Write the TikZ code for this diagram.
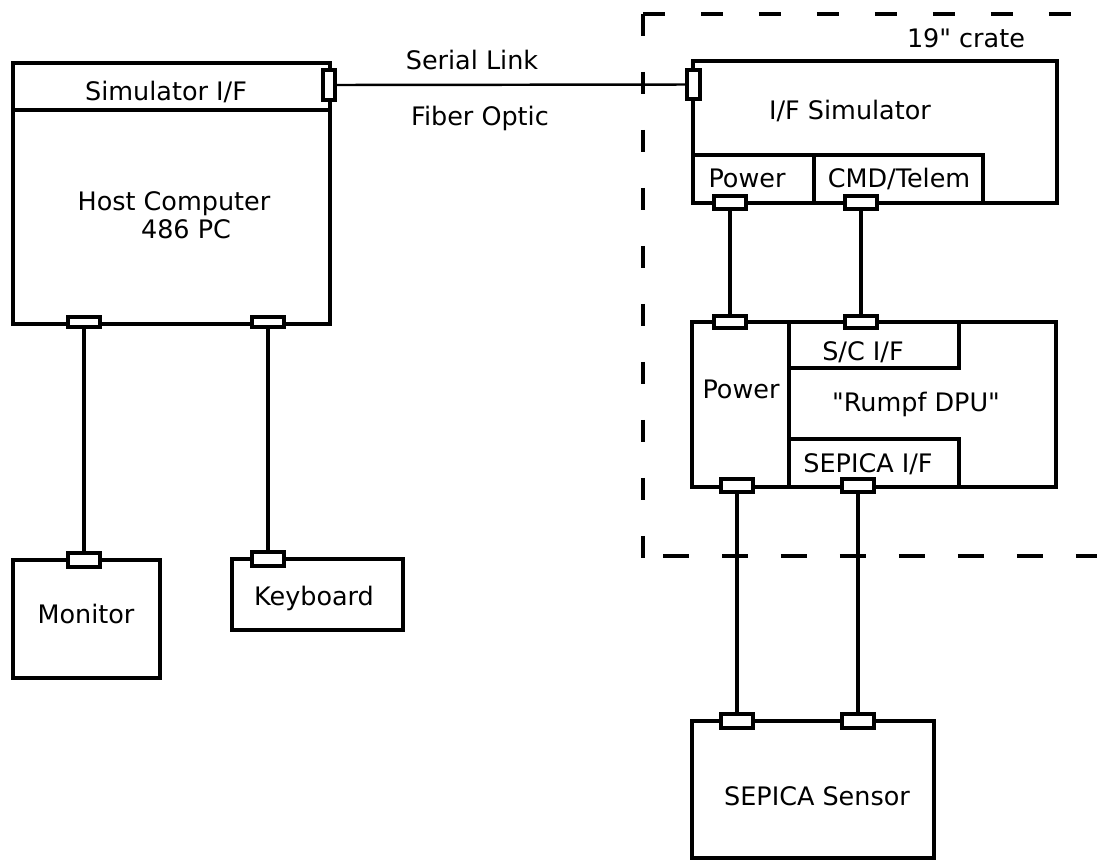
\documentclass[tikz,border=0pt]{standalone}
\usepackage{fontspec}
\setmainfont{DejaVu Sans}[Ligatures=TeXOff]
\usetikzlibrary{fit}
\begin{document}
\begin{tikzpicture}[x=0.02cm,y=-0.02cm,
  box/.style={draw, line width=2pt, inner sep=0pt, rectangle},
  port/.style={draw, fill=white, line width=1.8pt, inner sep=0pt, rectangle},
  lbl/.style={font=\fontsize{14.5}{17}\selectfont, anchor=base, inner sep=0pt},
  link/.style={line width=2pt},
  serial/.style={line width=1.4pt},
  crate/.style={line width=2pt, dash pattern=on 0.44cm off 0.72cm},
  cratebottom/.style={line width=2pt, dash pattern=on 0.52cm off 0.66cm},
]
\useasboundingbox (0,0) rectangle (1097,863);

% 19" crate outline (dashed)
\draw[crate] (643,14) -- (643,558);
\draw[crate] (643,14) -- (1097,14);
\draw[cratebottom] (663,556) -- (1097,556);

% host computer
\node[box, fit={(13,63) (330,324)}] (host) {};
\node[box, fit={(13,63) (330,110)}] (simif) {};
\node[lbl] (simiflbl) at (166,100) {Simulator I/F};
\node[lbl] (hostlbl) at (174,210) {Host Computer};
\node[lbl] (pclbl) at (186,238) {486 PC};

% monitor and keyboard
\node[box, fit={(13,560) (160,678)}] (mon) {};
\node[lbl] (monlbl) at (86,623) {Monitor};
\node[box, fit={(232,559) (403,630)}] (kbd) {};
\node[lbl] (kbdlbl) at (314,605) {Keyboard};

% I/F simulator
\node[box, fit={(693,61) (1057,203)}] (ifsim) {};
\node[box, fit={(693,155) (814,203)}] (ifpow) {};
\node[box, fit={(814,155) (983,203)}] (ifcmd) {};
\node[lbl] (ifsimlbl) at (850,119) {I/F Simulator};
\node[lbl] (ifpowlbl) at (747,187) {Power};
\node[lbl] (ifcmdlbl) at (899,187) {CMD/Telem};
\node[lbl] (cratelbl) at (966,47) {19" crate};

% DPU
\node[box, fit={(692,322) (1056,487)}] (dpu) {};
\node[box, fit={(692,322) (789,487)}] (dpupow) {};
\node[box, fit={(789,322) (959,368)}] (scif) {};
\node[box, fit={(789,439) (959,487)}] (sepif) {};
\node[lbl] (dpupowlbl) at (741,398) {Power};
\node[lbl] (sciflbl) at (863,360) {S/C I/F};
\node[lbl] (dpulbl) at (916,411) {"Rumpf DPU"};
\node[lbl] (sepiflbl) at (868,472) {SEPICA I/F};

% SEPICA sensor
\node[box, fit={(692,721) (934,858)}] (sensor) {};
\node[lbl] (sensorlbl) at (817,805) {SEPICA Sensor};

% serial link labels
\node[lbl] (seriallbl) at (472,69) {Serial Link};
\node[lbl] (fiberlbl) at (480,125) {Fiber Optic};

% connectors
\node[port, fit={(323,70) (335,100)}] (hostS) {};
\node[port, fit={(687,70) (700,99)}] (ifS) {};
\node[port, fit={(68,317) (100,327)}] (hostM) {};
\node[port, fit={(252,317) (284,327)}] (hostK) {};
\node[port, fit={(68,553) (100,567)}] (monP) {};
\node[port, fit={(252,552) (284,566)}] (kbdP) {};
\node[port, fit={(714,196) (746,209)}] (ifP) {};
\node[port, fit={(845,196) (877,209)}] (ifC) {};
\node[port, fit={(714,316) (746,328)}] (dpuP) {};
\node[port, fit={(845,316) (877,328)}] (dpuC) {};
\node[port, fit={(721,479) (753,492)}] (dpuQ) {};
\node[port, fit={(842,479) (874,492)}] (dpuS) {};
\node[port, fit={(721,714) (753,728)}] (senQ) {};
\node[port, fit={(842,714) (874,728)}] (senS) {};

% cables
\draw[serial] (hostS.east) -- (ifS.west);
\draw[link] (hostM.south) -- (monP.north);
\draw[link] (hostK.south) -- (kbdP.north);
\draw[link] (ifP.south) -- (dpuP.north);
\draw[link] (ifC.south) -- (dpuC.north);
\draw[link] (dpuQ.south) -- (senQ.north);
\draw[link] (dpuS.south) -- (senS.north);
\end{tikzpicture}
\end{document}
